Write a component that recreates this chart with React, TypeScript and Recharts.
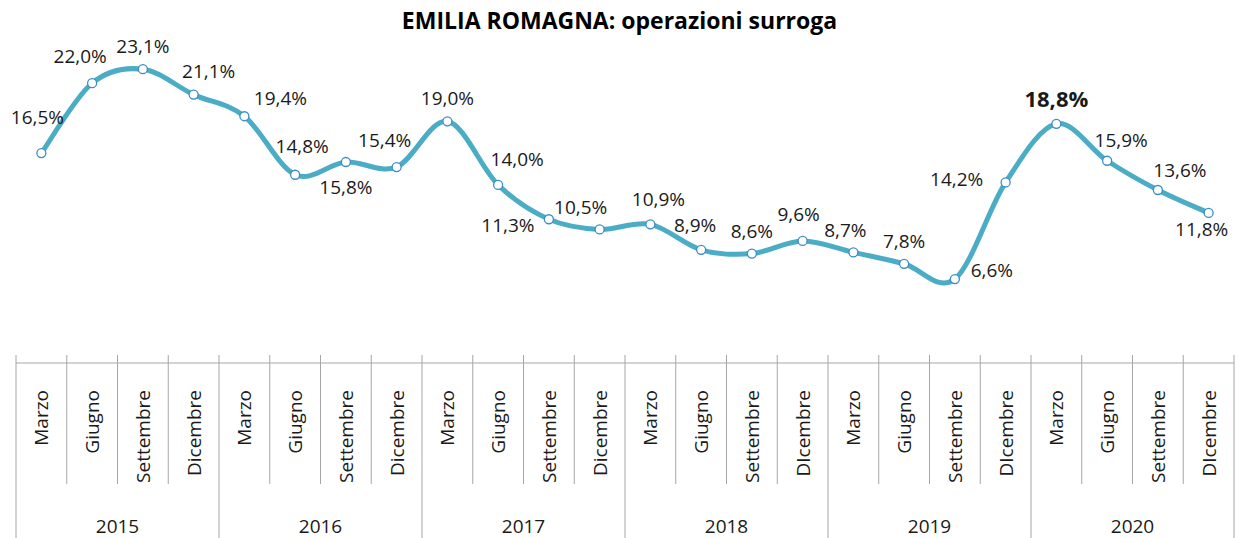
import { LineChart, Line, XAxis, YAxis, LabelList } from 'recharts';

// quarterly share of "surroga" operations, Emilia Romagna
const years = ['2015', '2016', '2017', '2018', '2019', '2020'];
const quarters = [
  'Marzo', 'Giugno', 'Settembre', 'Dicembre',
  'Marzo', 'Giugno', 'Settembre', 'Dicembre',
  'Marzo', 'Giugno', 'Settembre', 'Dicembre',
  'Marzo', 'Giugno', 'Settembre', 'DIcembre',
  'Marzo', 'Giugno', 'Settembre', 'DIcembre',
  'Marzo', 'Giugno', 'Settembre', 'DIcembre',
];
const surroga = [
  16.5, 22.0, 23.1, 21.1,
  19.4, 14.8, 15.8, 15.4,
  19.0, 14.0, 11.3, 10.5,
  10.9, 8.9, 8.6, 9.6,
  8.7, 7.8, 6.6, 14.2,
  18.8, 15.9, 13.6, 11.8,
];
// where each value label sits relative to its point: [dx, dy of baseline]
const labelOffsets = [
  [-4, -29], [-12, -20], [0, -16], [15, -17],
  [36, -11], [7, -22], [0, 32], [-12, -20],
  [0, -16], [19, -19], [-41, 13], [-19, -15],
  [8, -18], [-6, -18], [0, -16], [-4, -20],
  [-8, -15], [0, -16], [37, -2], [-49, 4],
  [0, -17], [14, -14], [22, -13], [-7, 23],
];
const highlightIndex = 20;

const data = surroga.map((v, i) => ({
  key: `${years[Math.floor(i / 4)]}-${i}`,
  value: v,
}));

const W = 1239;
const H = 538;
const MARGIN = { top: 45, right: 5, left: 16, bottom: 0 };
const AXIS_H = 175;
const PLOT_BOTTOM = H - AXIS_H;
const BAND = (W - MARGIN.left - MARGIN.right) / quarters.length;
const FONT = '"Open Sans", sans-serif';
const LINE_COLOR = '#4BACC6';
const GRID = '#A6A6A6';

// Excel-like smoothed line (Catmull-Rom through every point)
const smoothCurve = (context: any) => {
  let pts: number[][] = [];
  return {
    areaStart() {},
    areaEnd() {},
    lineStart() { pts = []; },
    point(x: number, y: number) { pts.push([+x, +y]); },
    lineEnd() {
      if (!pts.length) return;
      context.moveTo(pts[0][0], pts[0][1]);
      for (let i = 0; i < pts.length - 1; i++) {
        const p0 = pts[i - 1] || pts[i];
        const p1 = pts[i];
        const p2 = pts[i + 1];
        const p3 = pts[i + 2] || p2;
        context.bezierCurveTo(
          p1[0] + (p2[0] - p0[0]) / 6, p1[1] + (p2[1] - p0[1]) / 6,
          p2[0] - (p3[0] - p1[0]) / 6, p2[1] - (p3[1] - p1[1]) / 6,
          p2[0], p2[1]
        );
      }
    },
  };
};

const CategoryTick = (props: any) => {
  const { x, index } = props;
  const left = x - BAND / 2;
  const isYearStart = index % 4 === 0;
  return (
    <g>
      <line x1={left} x2={left} y1={PLOT_BOTTOM - 8} y2={isYearStart ? H : 484} stroke={GRID} strokeWidth={1} />
      {index === quarters.length - 1 && (
        <line x1={left + BAND} x2={left + BAND} y1={PLOT_BOTTOM - 8} y2={H} stroke={GRID} strokeWidth={1} />
      )}
      <text
        transform={`translate(${x}, 390) rotate(-90)`}
        textAnchor="end"
        dominantBaseline="central"
        fontFamily={FONT}
        fontSize={19}
        fill="#1a1a1a"
      >
        {quarters[index]}
      </text>
      {isYearStart && (
        <text x={left + BAND * 2} y={533} textAnchor="middle" fontFamily={FONT} fontSize={19} fill="#1a1a1a">
          {years[index / 4]}
        </text>
      )}
    </g>
  );
};

const ValueLabel = (props: any) => {
  const { x, y, value, index } = props;
  const [dx, dy] = labelOffsets[index];
  const bold = index === highlightIndex;
  return (
    <text
      x={x + dx}
      y={y + dy}
      textAnchor="middle"
      fontFamily={FONT}
      fontSize={bold ? 22 : 19}
      fontWeight={bold ? 700 : 400}
      fill="#1a1a1a"
    >
      {`${Number(value).toFixed(1).replace('.', ',')}%`}
    </text>
  );
};

export default function App() {
  return (
    <div style={{ position: 'relative', width: W, height: H, background: '#fff' }}>
      <style>{`body{margin:0}`}</style>
      <div
        style={{
          position: 'absolute',
          top: 9,
          left: 0,
          width: W,
          textAlign: 'center',
          fontFamily: FONT,
          fontWeight: 700,
          fontSize: 23,
          lineHeight: '23px',
          color: '#000',
        }}
      >
        EMILIA ROMAGNA: operazioni surroga
      </div>
      <LineChart width={W} height={H} data={data} margin={MARGIN}>
        <XAxis
          dataKey="key"
          height={AXIS_H}
          interval={0}
          tickLine={false}
          axisLine={{ stroke: GRID, strokeWidth: 1 }}
          padding={{ left: BAND / 2, right: BAND / 2 }}
          tick={<CategoryTick />}
        />
        <YAxis hide domain={[0, 25]} />
        <Line
          dataKey="value"
          type={smoothCurve as any}
          stroke={LINE_COLOR}
          strokeWidth={5}
          dot={{ r: 4.5, fill: '#fff', stroke: '#3B8DC5', strokeWidth: 1.3 }}
          activeDot={false}
          isAnimationActive={false}
        >
          <LabelList dataKey="value" content={<ValueLabel />} />
        </Line>
      </LineChart>
    </div>
  );
}
